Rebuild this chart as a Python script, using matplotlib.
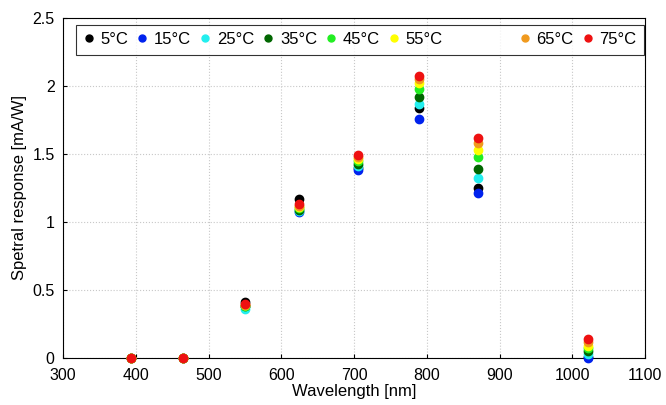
import matplotlib
matplotlib.use("Agg")
import matplotlib.pyplot as plt
from matplotlib.lines import Line2D

plt.rcParams['font.family'] = ['Liberation Sans', 'DejaVu Sans']

wavelengths = [394, 465, 550, 625, 705, 790, 870, 1022]
temps = ["5°C", "15°C", "25°C", "35°C", "45°C", "55°C", "65°C", "75°C"]
colors = ["#000000", "#0022EE", "#22EEEE", "#006600", "#22EE22", "#FFFF00", "#F09A1E", "#EE1111"]

r5 = [0.0, 0.0, 0.41, 1.17, 1.40, 1.84, 1.25, 0.01]
r15 = [0.0, 0.0, 0.38, 1.07, 1.38, 1.76, 1.21, 0.00]
r25 = [0.0, 0.0, 0.36, 1.08, 1.41, 1.87, 1.32, 0.03]
r35 = [0.0, 0.0, 0.38, 1.09, 1.43, 1.92, 1.39, 0.05]
r45 = [0.0, 0.0, 0.38, 1.10, 1.45, 1.98, 1.48, 0.07]
r55 = [0.0, 0.0, 0.39, 1.11, 1.46, 2.02, 1.53, 0.09]
r65 = [0.0, 0.0, 0.39, 1.12, 1.48, 2.05, 1.58, 0.12]
r75 = [0.0, 0.0, 0.40, 1.13, 1.49, 2.07, 1.62, 0.14]
series = [r5, r15, r25, r35, r45, r55, r65, r75]

xticks = [300, 400, 500, 600, 700, 800, 900, 1000, 1100]
yticks = [0, 0.5, 1, 1.5, 2, 2.5]
ytick_labels = ["0", "0.5", "1", "1.5", "2", "2.5"]

fig = plt.figure(figsize=(6.66, 4.05), dpi=100)
ax = fig.add_axes([63/666, 47/405, (645-63)/666, (358-18)/405])

for vals, col in zip(series, colors):
    ax.plot(wavelengths, vals, linestyle='none', marker='o', markersize=6,
            color=col, markeredgecolor=col, clip_on=False, zorder=3)

ax.set_xlim(300, 1100)
ax.set_ylim(0, 2.5)
ax.set_xticks(xticks)
ax.set_xticklabels([str(t) for t in xticks])
ax.set_yticks(yticks)
ax.set_yticklabels(ytick_labels)
ax.tick_params(labelsize=11.5, direction='in', length=3)
ax.tick_params(axis='x', pad=7)
ax.tick_params(axis='y', pad=6)
ax.grid(True, linestyle=':', color='#c8c8c8', linewidth=0.8)
ax.set_axisbelow(True)
ax.set_xlabel("Wavelength [nm]", fontsize=12, labelpad=1)
ax.set_ylabel("Spetral response [mA/W]", fontsize=12, labelpad=4)

handles = []
labels = []
for i, (t, c) in enumerate(zip(temps, colors)):
    if i == 6:
        handles.append(Line2D([], [], linestyle='none', marker='o', markersize=5, color='white'))
        labels.append("         ")
    handles.append(Line2D([], [], linestyle='none', marker='o', markersize=5, color=c))
    labels.append(t)
leg = ax.legend(handles, labels, ncol=9, loc='upper right', bbox_to_anchor=(0.998, 0.98),
                fontsize=12, frameon=True, fancybox=False, edgecolor='black',
                handlelength=0.6, handletextpad=0.4, columnspacing=0.55,
                borderpad=0.45, borderaxespad=0.0)
leg.get_frame().set_linewidth(0.8)

fig.savefig("out.png", dpi=100)
